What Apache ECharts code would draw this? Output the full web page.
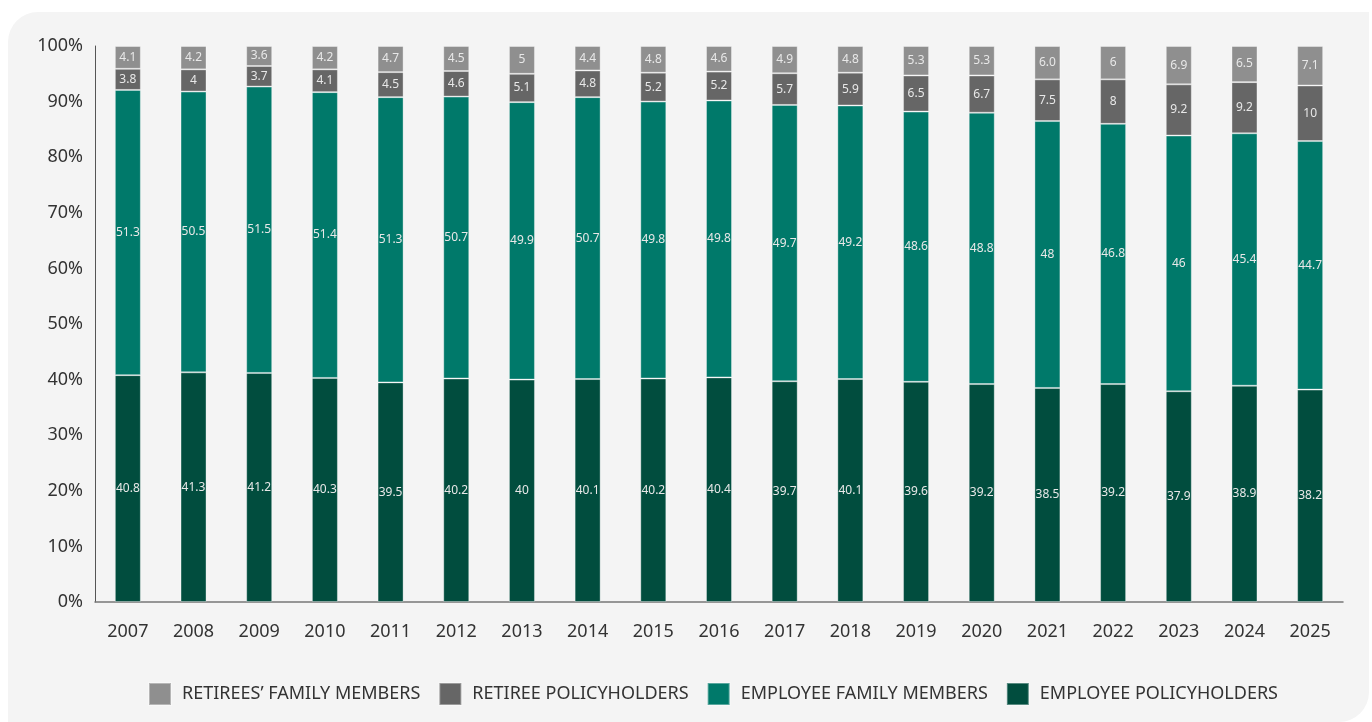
<!DOCTYPE html>
<html>
<head>
<meta charset="utf-8">
<script src="https://cdn.jsdelivr.net/npm/echarts@6/dist/echarts.min.js"></script>
<style>
  html, body { margin: 0; padding: 0; background: #ffffff; }
  #panel {
    position: absolute; left: 8px; top: 12px; width: 1361px; height: 710px;
    background: #f4f4f4; border-radius: 30px 0 30px 0;
  }
  #chart { position: absolute; left: 0; top: 0; width: 1372px; height: 722px; }
</style>
</head>
<body>
<div id="panel"></div>
<div id="chart"></div>
<script>
// Share of insured people by group, per year (percent)
const years = ['2007','2008','2009','2010','2011','2012','2013','2014','2015','2016','2017','2018','2019','2020','2021','2022','2023','2024','2025'];
const employeePolicyholders = ['40.8','41.3','41.2','40.3','39.5','40.2','40','40.1','40.2','40.4','39.7','40.1','39.6','39.2','38.5','39.2','37.9','38.9','38.2'];
const employeeFamily = ['51.3','50.5','51.5','51.4','51.3','50.7','49.9','50.7','49.8','49.8','49.7','49.2','48.6','48.8','48','46.8','46','45.4','44.7'];
const retireePolicyholders = ['3.8','4','3.7','4.1','4.5','4.6','5.1','4.8','5.2','5.2','5.7','5.9','6.5','6.7','7.5','8','9.2','9.2','10'];
const retireesFamily = ['4.1','4.2','3.6','4.2','4.7','4.5','5','4.4','4.8','4.6','4.9','4.8','5.3','5.3','6.0','6','6.9','6.5','7.1'];
const yTicks = [0, 10, 20, 30, 40, 50, 60, 70, 80, 90, 100];

const FONT = '"Noto Sans", sans-serif';

function barSeries(name, values, color) {
  return {
    name: name,
    type: 'bar',
    stack: 'total',
    barWidth: 26,
    data: values.map(Number),
    itemStyle: { color: color, borderColor: 'rgba(255,255,255,0.35)', borderWidth: 1 },
    label: {
      show: true,
      position: 'inside',
      color: '#e8e8e8',
      fontSize: 12,
      fontFamily: FONT,
      formatter: p => values[p.dataIndex]
    },
    emphasis: { disabled: true }
  };
}

const chart = echarts.init(document.getElementById('chart'), null, { renderer: 'canvas' });
chart.setOption({
  backgroundColor: 'transparent',
  animation: false,
  grid: { left: 95, right: 29, top: 46, bottom: 120 },
  legend: {
    top: 677,
    left: 143,
    itemWidth: 22,
    itemHeight: 22,
    itemGap: 18,
    icon: 'rect',
    textStyle: { color: '#333333', fontSize: 18, fontFamily: FONT, padding: [0, 0, 0, 6] },
    data: ['RETIREES’ FAMILY MEMBERS', 'RETIREE POLICYHOLDERS', 'EMPLOYEE FAMILY MEMBERS', 'EMPLOYEE POLICYHOLDERS']
  },
  xAxis: {
    type: 'category',
    data: years,
    axisLine: { show: true, lineStyle: { color: '#777777', width: 1.5 } },
    axisTick: { show: false },
    axisLabel: { color: '#333333', fontSize: 18, fontFamily: FONT, margin: 21 }
  },
  yAxis: {
    type: 'value',
    min: yTicks[0],
    max: yTicks[yTicks.length - 1],
    interval: 10,
    splitLine: { show: false },
    axisLine: { show: true, lineStyle: { color: '#555555', width: 1 } },
    axisTick: { show: false },
    axisLabel: {
      color: '#333333', fontSize: 18, fontFamily: FONT, margin: 12,
      formatter: v => v + '%'
    }
  },
  series: [
    barSeries('EMPLOYEE POLICYHOLDERS', employeePolicyholders, '#014d3e'),
    barSeries('EMPLOYEE FAMILY MEMBERS', employeeFamily, '#00796a'),
    barSeries('RETIREE POLICYHOLDERS', retireePolicyholders, '#666666'),
    barSeries('RETIREES’ FAMILY MEMBERS', retireesFamily, '#8f8f8f')
  ]
});
</script>
</body>
</html>
